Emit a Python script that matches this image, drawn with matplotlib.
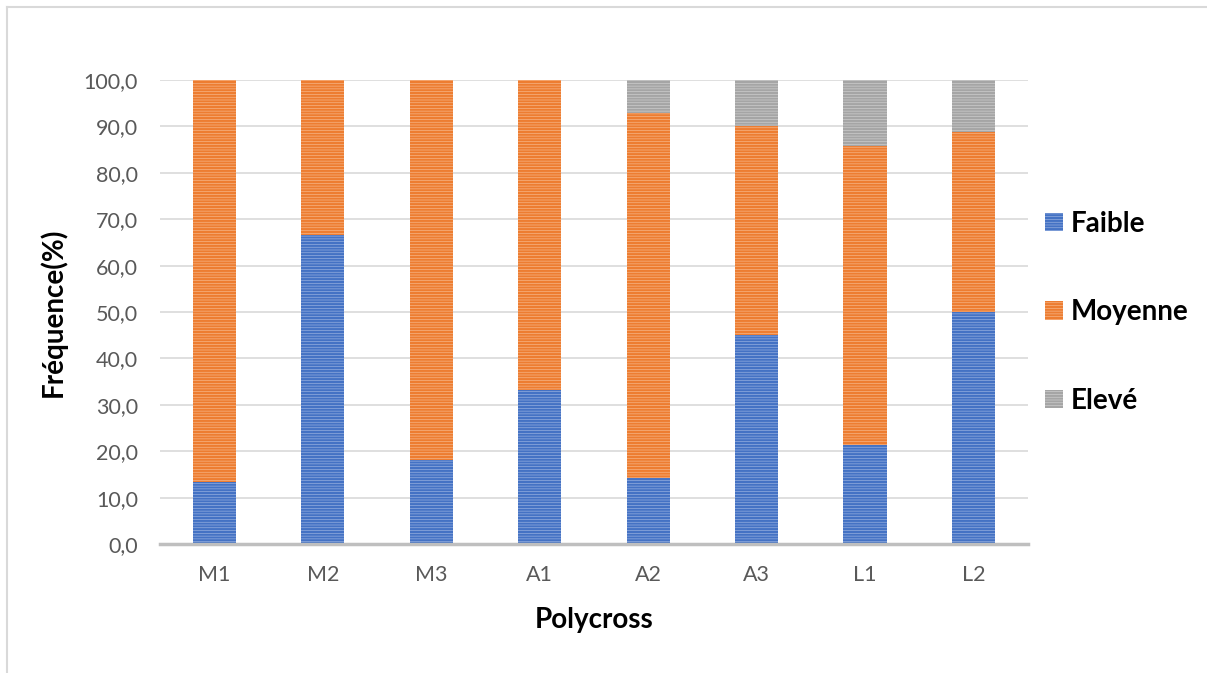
import numpy as np
import matplotlib
matplotlib.use("Agg")
import matplotlib.pyplot as plt
from matplotlib.lines import Line2D
from matplotlib.ticker import FuncFormatter

plt.rcParams['font.family'] = ['Lato', 'DejaVu Sans']
plt.rcParams['hatch.linewidth'] = 1.6

# frequences par classe (%)
polycross = ["M1", "M2", "M3", "A1", "A2", "A3", "L1", "L2"]
faible = [13.3, 66.7, 18.2, 33.3, 14.3, 45.0, 21.4, 50.0]
moyenne = [86.7, 33.3, 81.8, 66.7, 78.6, 45.0, 64.3, 38.9]
eleve = [0.0, 0.0, 0.0, 0.0, 7.1, 10.0, 14.3, 11.1]
series_names = ["Faible", "Moyenne", "Elevé"]

# couleur de fond / couleur des rayures
face_cols = ["#a9bde6", "#f8c29b", "#d6d6d6"]
line_cols = ["#4472c4", "#ed7d31", "#a5a5a5"]

fig = plt.figure(figsize=(12.07, 6.73), dpi=100)
ax = fig.add_axes([0.1326, 0.1917, 0.719, 0.6893])

x = np.arange(len(polycross))
bottom = np.zeros(len(polycross))
handles = []
for vals, name, fc, lc in zip([faible, moyenne, eleve], series_names, face_cols, line_cols):
    vals = np.array(vals)
    b = ax.bar(x, vals, 0.4, bottom=bottom, color=fc, edgecolor=lc,
               hatch="------", linewidth=0, label=name, zorder=2)
    handles.append(b)
    bottom = bottom + vals

ax.set_ylim(0, 100)
ax.set_xlim(-0.5, len(polycross) - 0.5)
ax.set_yticks(np.arange(0, 101, 10))
ax.yaxis.set_major_formatter(FuncFormatter(lambda v, p: f"{v:.1f}".replace(".", ",")))
ax.set_xticks(x)
ax.set_xticklabels(polycross)
ax.grid(axis="y", color="#d9d9d9", linewidth=1.2, zorder=0)
ax.set_axisbelow(True)
for s in ["top", "right", "left"]:
    ax.spines[s].set_visible(False)
ax.spines["bottom"].set_color("#bfbfbf")
ax.spines["bottom"].set_linewidth(2.5)
ax.tick_params(axis="both", length=0, labelsize=15.5, colors="#595959")
ax.tick_params(axis="y", pad=16)
ax.tick_params(axis="x", pad=15)

ax.set_xlabel("Polycross", fontsize=20, fontweight="bold", labelpad=16)
ax.set_ylabel("Fréquence(%)", fontsize=20, fontweight="bold", labelpad=12)

leg = ax.legend(handles=handles, loc="center left", bbox_to_anchor=(1.0, 0.5),
                frameon=False, prop={"weight": "bold", "size": 20},
                labelspacing=2.25, handlelength=0.65, handleheight=0.65,
                handletextpad=0.3, borderaxespad=0.2)

# cadre du graphique
fig.add_artist(Line2D([7 / 1207, 1], [1 - 7 / 673, 1 - 7 / 673], color="#d9d9d9", linewidth=1.5))
fig.add_artist(Line2D([7 / 1207, 7 / 1207], [0, 1 - 7 / 673], color="#d9d9d9", linewidth=1.5))

fig.savefig("out.png", dpi=100)
